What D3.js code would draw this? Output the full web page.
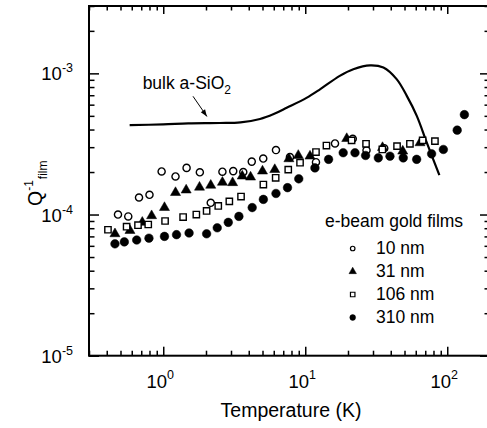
<!DOCTYPE html>
<html>
<head>
<meta charset="utf-8">
<script src="https://cdn.jsdelivr.net/npm/d3@7"></script>
<style>
  html, body { margin: 0; padding: 0; background: #fff; }
  svg { display: block; font-family: "Liberation Sans", Arial, Helvetica, sans-serif; }
</style>
</head>
<body>
<svg id="chart" width="487" height="428"></svg>
<script>
// bulk a-SiO2 reference curve
var bulkT = [0.58, 1.0, 1.5, 2.5, 3.5, 4.8, 6.0, 7.4, 10.2, 12.7, 17.5, 21.8, 28.6, 35.5, 44, 52, 61, 72, 88];
var bulkQ = [4.3e-4, 4.35e-4, 4.42e-4, 4.45e-4, 4.5e-4, 4.75e-4, 5.15e-4, 5.7e-4, 6.7e-4, 7.7e-4, 9.6e-4, 1.07e-3, 1.14e-3, 1.1e-3, 9.1e-4, 6.9e-4, 5.0e-4, 3.2e-4, 1.9e-4];

// e-beam gold films
var t10 = [0.48, 0.567, 0.675, 0.80, 0.974, 1.22, 1.46, 1.81, 2.16, 2.61, 3.11, 3.66, 4.2, 5.06, 6.22, 7.8, 11.9, 16.2, 21.6, 27, 36];
var q10 = [1.0e-4, 0.97e-4, 1.32e-4, 1.38e-4, 2.02e-4, 1.86e-4, 2.14e-4, 1.99e-4, 1.21e-4, 2.01e-4, 2.03e-4, 2.0e-4, 2.37e-4, 2.49e-4, 2.86e-4, 2.55e-4, 2.35e-4, 3.19e-4, 3.44e-4, 2.85e-4, 2.95e-4];

var t31 = [0.457, 0.583, 0.712, 0.828, 1.02, 1.22, 1.45, 1.80, 2.16, 2.61, 3.08, 3.6, 4.12, 5.0, 6.1, 7.67, 8.93, 10.8, 19.6, 35, 48.6, 64.3];
var q31 = [7.3e-5, 7.7e-5, 8.8e-5, 9.8e-5, 1.12e-4, 1.43e-4, 1.49e-4, 1.56e-4, 1.61e-4, 1.69e-4, 1.68e-4, 1.87e-4, 1.84e-4, 2.03e-4, 2.08e-4, 2.48e-4, 2.62e-4, 2.59e-4, 3.45e-4, 2.98e-4, 2.81e-4, 3.22e-4];

var t106 = [0.408, 0.552, 0.664, 0.784, 1.03, 1.38, 1.71, 2.02, 2.44, 2.92, 3.53, 5.07, 6.19, 7.59, 9.19, 11.9, 14.1, 21.2, 26.8, 34.9, 44.3, 54.6, 67.1, 81.9];
var q106 = [7.8e-5, 8.2e-5, 8.4e-5, 8.5e-5, 9.0e-5, 9.6e-5, 1.0e-4, 1.06e-4, 1.15e-4, 1.24e-4, 1.34e-4, 1.63e-4, 1.82e-4, 2.08e-4, 2.33e-4, 2.77e-4, 3.08e-4, 3.35e-4, 3.17e-4, 2.89e-4, 3.05e-4, 3.17e-4, 3.35e-4, 3.31e-4];

var t310 = [0.457, 0.532, 0.65, 0.793, 1.02, 1.24, 1.52, 2.02, 2.4, 2.87, 3.41, 4.23, 5.07, 6.22, 7.5, 9.0, 11.7, 14.6, 18.5, 22.4, 26.6, 32.7, 39.5, 49, 60.9, 77.6, 93.9, 117.5, 132];
var q310 = [6.2e-5, 6.4e-5, 6.6e-5, 6.8e-5, 7.0e-5, 7.2e-5, 7.4e-5, 7.3e-5, 8.05e-5, 8.8e-5, 9.7e-5, 1.12e-4, 1.28e-4, 1.41e-4, 1.55e-4, 1.79e-4, 2.14e-4, 2.46e-4, 2.74e-4, 2.74e-4, 2.62e-4, 2.52e-4, 2.59e-4, 2.52e-4, 2.46e-4, 2.69e-4, 2.89e-4, 3.96e-4, 5.1e-4];

var legendLabels = ['10 nm', '31 nm', '106 nm', '310 nm'];
var xMajor = [1, 10, 100];
var xExp = ['0', '1', '2'];
var yMajor = [1e-5, 1e-4, 1e-3];
var yExp = ['-5', '-4', '-3'];

(() => {
var svg = d3.select('#chart');
var pL = 89, pT = 6, pR = 490, pB = 355.7;

var x = d3.scaleLog().domain([0.3, 200]).range([pL, pR]);
var y = d3.scaleLog().domain([1e-5, 3e-3]).range([pB, pT]);

function minors(lo, hi) {
  var out = [];
  for (var e = -6; e <= 3; e++) {
    for (var m = 2; m <= 9; m++) {
      var v = m * Math.pow(10, e);
      if (v >= lo * 0.999 && v <= hi * 1.001) out.push(v);
    }
  }
  return out;
}
var xMinor = minors(0.3, 200);
var yMinor = minors(1e-5, 3e-3);

var g = svg.append('g');

// ticks, pointing inward on all four sides
function tickAxis(axis, scale, vals, size, tr) {
  var a = g.append('g').attr('transform', tr)
    .call(axis(scale).tickValues(vals).tickSize(size).tickFormat(''));
  a.select('.domain').remove();
  a.selectAll('.tick line').attr('stroke', '#000').attr('stroke-width', 1.5);
}
tickAxis(d3.axisBottom, x, xMinor, -5, `translate(0,${pB})`);
tickAxis(d3.axisBottom, x, xMajor, -9, `translate(0,${pB})`);
tickAxis(d3.axisTop, x, xMinor, -4.5, `translate(0,${pT})`);
tickAxis(d3.axisTop, x, xMajor, -8, `translate(0,${pT})`);
tickAxis(d3.axisLeft, y, yMinor, -5.5, `translate(${pL},0)`);
tickAxis(d3.axisLeft, y, yMajor, -10, `translate(${pL},0)`);
tickAxis(d3.axisRight, y, yMinor, -5.5, `translate(${pR},0)`);
tickAxis(d3.axisRight, y, yMajor, -10, `translate(${pR},0)`);

// frame
g.append('rect')
  .attr('x', pL).attr('y', pT)
  .attr('width', pR - pL).attr('height', pB - pT)
  .attr('fill', 'none').attr('stroke', '#000').attr('stroke-width', 2);

// tick labels
xMajor.forEach((v, i) => {
  var t = g.append('text')
    .attr('x', x(v) - 3).attr('y', 388)
    .attr('text-anchor', 'middle')
    .attr('font-size', 18.5);
  t.append('tspan').text('10');
  t.append('tspan').attr('font-size', 12.5).attr('dy', -9).text(xExp[i]);
});
yMajor.forEach((v, i) => {
  var t = g.append('text')
    .attr('x', 73).attr('y', y(v) + 7)
    .attr('text-anchor', 'end')
    .attr('font-size', 18.5);
  t.append('tspan').text('10');
  t.append('tspan').attr('font-size', 12.5).attr('dy', -8).text(yExp[i]);
});

// axis titles
g.append('text')
  .attr('x', 291).attr('y', 417)
  .attr('text-anchor', 'middle')
  .attr('font-size', 19.5)
  .text('Temperature (K)');

var yt = g.append('text')
  .attr('transform', 'translate(42,206) rotate(-90)')
  .attr('font-size', 19.5);
yt.append('tspan').text('Q');
yt.append('tspan').attr('font-size', 12).attr('dy', -9).text('-1');
yt.append('tspan').attr('font-size', 12).attr('dy', 14).attr('dx', 1).text('film');

// bulk curve
var line = d3.line()
  .x(d => x(d[0]))
  .y(d => y(d[1]))
  .curve(d3.curveCatmullRom.alpha(0.5));
g.append('path')
  .datum(d3.zip(bulkT, bulkQ))
  .attr('d', line)
  .attr('fill', 'none')
  .attr('stroke', '#000')
  .attr('stroke-width', 2.2);

// annotation
var ann = g.append('text')
  .attr('x', x(0.716)).attr('y', y(7.7e-4))
  .attr('font-size', 17.5);
ann.append('tspan').text('bulk a-SiO');
ann.append('tspan').attr('font-size', 12).attr('dy', 5).text('2');

var ax0 = x(1.62), ay0 = y(6.88e-4), ax1 = x(2.03), ay1 = y(4.95e-4);
g.append('line')
  .attr('x1', ax0).attr('y1', ay0).attr('x2', ax1).attr('y2', ay1)
  .attr('stroke', '#000').attr('stroke-width', 1);
var ang = Math.atan2(ay1 - ay0, ax1 - ax0);
var hl = 7, hw = 2.6;
var bx = ax1 - hl * Math.cos(ang), by = ay1 - hl * Math.sin(ang);
g.append('path')
  .attr('d', `M${ax1},${ay1}L${bx - hw * Math.sin(ang)},${by + hw * Math.cos(ang)}L${bx + hw * Math.sin(ang)},${by - hw * Math.cos(ang)}Z`)
  .attr('fill', '#000');

// markers
var symCircle = d3.symbol().type(d3.symbolCircle);
var symTri = d3.symbol().type(d3.symbolTriangle);
var symSq = d3.symbol().type(d3.symbolSquare);

function drawSeries(ts, qs, sym, size, fill, sw) {
  g.append('g').selectAll('path')
    .data(d3.zip(ts, qs))
    .join('path')
    .attr('transform', d => `translate(${x(d[0])},${y(d[1])})`)
    .attr('d', sym.size(size))
    .attr('fill', fill)
    .attr('stroke', '#000')
    .attr('stroke-width', sw);
}
drawSeries(t10, q10, symCircle, 40, '#fff', 1.4);
drawSeries(t31, q31, symTri, 44, '#000', 0.5);
drawSeries(t106, q106, symSq, 40, '#fff', 1.4);
drawSeries(t310, q310, symCircle, 58, '#000', 0.5);

// legend
g.append('text')
  .attr('x', 325).attr('y', 227)
  .attr('font-size', 17.5)
  .text('e-beam gold films');
var legSym = [[symCircle, 16, '#fff', 1.2], [symTri, 24, '#000', 0.5], [symSq, 20, '#fff', 1.2], [symCircle, 26, '#000', 0.5]];
legendLabels.forEach((lab, i) => {
  var ly = 254 + i * 23;
  var s = legSym[i];
  g.append('path')
    .attr('transform', `translate(352.7,${ly - 5.5})`)
    .attr('d', s[0].size(s[1]))
    .attr('fill', s[2]).attr('stroke', '#000').attr('stroke-width', s[3]);
  g.append('text')
    .attr('x', 376).attr('y', ly)
    .attr('font-size', 17.5)
    .text(lab);
});
})();
</script>
</body>
</html>
